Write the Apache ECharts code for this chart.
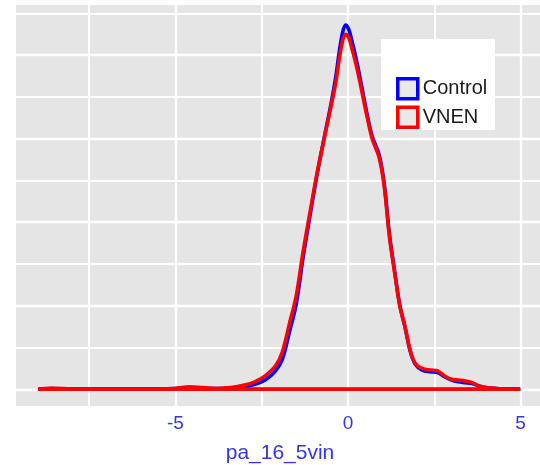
<!DOCTYPE html>
<html>
<head>
<meta charset="utf-8">
<script src="https://cdn.jsdelivr.net/npm/echarts@6/dist/echarts.min.js"></script>
<style>
html,body{margin:0;padding:0;background:#fff;}
#chart{width:540px;height:465px;}
</style>
</head>
<body>
<div id="chart"></div>
<script>
// ---- data ----
const seriesNames = ['Control', 'VNEN'];
const xValues = [-8.98, -8.6, -8.0, -7.0, -6.0, -5.0, -4.6, -4.2, -3.8, -3.4, -3.0, -2.7, -2.4, -2.1, -1.9, -1.7, -1.5, -1.3, -1.1, -0.9, -0.7, -0.5, -0.35, -0.25, -0.15, -0.07, 0.02, 0.12, 0.25, 0.4, 0.55, 0.7, 0.9, 1.05, 1.2, 1.35, 1.5, 1.65, 1.8, 1.95, 2.15, 2.4, 2.6, 2.8, 3.0, 3.2, 3.4, 3.6, 3.8, 4.0, 4.3, 4.6, 4.99];
const controlDensity = [0, 0.0008, 0.0005, 0.0004, 0.0004, 0.001, 0.002, 0.001, 0.001, 0.001, 0.003, 0.006, 0.011, 0.022, 0.036, 0.068, 0.102, 0.158, 0.208, 0.256, 0.299, 0.340, 0.375, 0.405, 0.428, 0.436, 0.431, 0.416, 0.393, 0.362, 0.330, 0.303, 0.281, 0.246, 0.186, 0.142, 0.101, 0.075, 0.046, 0.030, 0.023, 0.021, 0.020, 0.015, 0.011, 0.009, 0.008, 0.007, 0.004, 0.002, 0.001, 0.0005, 0];
const vnenDensity = [0, 0.0012, 0.0006, 0.0004, 0.0004, 0.001, 0.003, 0.002, 0.001, 0.002, 0.005, 0.009, 0.016, 0.028, 0.045, 0.078, 0.112, 0.165, 0.212, 0.258, 0.298, 0.337, 0.368, 0.396, 0.418, 0.425, 0.421, 0.407, 0.386, 0.357, 0.327, 0.300, 0.278, 0.243, 0.183, 0.140, 0.100, 0.075, 0.047, 0.031, 0.025, 0.023, 0.022, 0.016, 0.012, 0.011, 0.010, 0.008, 0.004, 0.002, 0.001, 0.0005, 0];
const xTickLabels = [-5, 0, 5];
const xMinorGrid = [-7.5, -2.5, 2.5];
const yTicks = [0, 0.1, 0.2, 0.3, 0.4];
const yMinorGrid = [0.05, 0.15, 0.25, 0.35, 0.45];
const xTitle = 'pa_16_5vin';

// ---- build ----
const colors = {Control: '#0000ff', VNEN: '#ff0000'};
const textBlue = '#3535e6';
function pairs(xs, ys) { return xs.map((x, i) => [x, ys[i]]); }
const baseline = [[xValues[0], 0], [xValues[xValues.length - 1], 0]];

const gridLines = [];
xTickLabels.forEach(v => gridLines.push({xAxis: v, lineStyle: {width: 2.4}}));
xMinorGrid.forEach(v => gridLines.push({xAxis: v, lineStyle: {width: 2}}));
yTicks.forEach(v => gridLines.push({yAxis: v, lineStyle: {width: 2.4}}));
yMinorGrid.forEach(v => gridLines.push({yAxis: v, lineStyle: {width: 2}}));

const chart = echarts.init(document.getElementById('chart'), null, {renderer: 'canvas'});
chart.setOption({
  animation: false,
  backgroundColor: '#ffffff',
  grid: {left: 16, top: 5, width: 528, bottom: 59, show: true, backgroundColor: '#e5e5e5', borderWidth: 0,
         outerBoundsMode: 'none', containLabel: false},
  xAxis: {
    type: 'value', min: -9.62, max: 5.68,
    axisLine: {show: false},
    splitLine: {show: false},
    axisTick: {show: true, customValues: xTickLabels, length: 4, lineStyle: {color: '#444', width: 1}},
    axisLabel: {customValues: xTickLabels, color: textBlue, fontSize: 19, fontFamily: 'Liberation Sans', margin: 8},
    name: xTitle, nameLocation: 'middle', nameGap: 37,
    nameTextStyle: {color: textBlue, fontSize: 21, fontFamily: 'Liberation Sans'}
  },
  yAxis: {
    type: 'value', min: -0.02, max: 0.46,
    axisLine: {show: false},
    splitLine: {show: false},
    axisTick: {show: true, customValues: yTicks, length: 4, lineStyle: {color: '#444', width: 1}},
    axisLabel: {show: false}
  },
  graphic: [{
    type: 'rect', left: 381, top: 39, shape: {width: 114, height: 91},
    style: {fill: '#ffffff'}, z: 50
  }],
  legend: {
    orient: 'vertical', left: 391, top: 72, z: 60,
    itemWidth: 20, itemHeight: 20, itemGap: 5, icon: 'rect',
    textStyle: {fontSize: 20, color: '#1a1a1a', fontFamily: 'Liberation Sans'},
    data: seriesNames.map(n => ({name: n, itemStyle: {color: '#e9e9e9', borderColor: colors[n], borderWidth: 3.5}}))
  },
  series: [
    {type: 'line', name: 'grid', data: [], silent: true, z: 1,
     markLine: {silent: true, z: 1, symbol: 'none', label: {show: false}, animation: false,
       lineStyle: {color: '#ffffff', type: 'solid'}, data: gridLines}},
    {type: 'line', name: 'Control', data: pairs(xValues, controlDensity), smooth: 0.35, showSymbol: false,
     lineStyle: {color: colors.Control, width: 3.6}, itemStyle: {color: colors.Control}, z: 10},
    {type: 'line', name: 'Control base', data: baseline, showSymbol: false,
     lineStyle: {color: colors.Control, width: 3.6}, z: 10},
    {type: 'line', name: 'VNEN', data: pairs(xValues, vnenDensity), smooth: 0.35, showSymbol: false,
     lineStyle: {color: colors.VNEN, width: 3.6}, itemStyle: {color: colors.VNEN}, z: 11},
    {type: 'line', name: 'VNEN base', data: baseline, showSymbol: false,
     lineStyle: {color: colors.VNEN, width: 3.6}, z: 11}
  ]
});
</script>
</body>
</html>
